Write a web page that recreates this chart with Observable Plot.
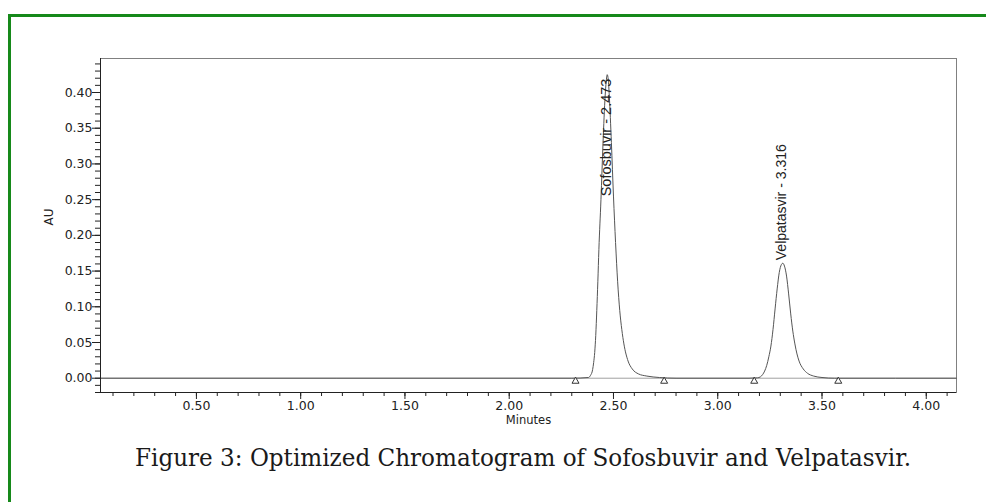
<!DOCTYPE html>
<html><head><meta charset="utf-8">
<script src="https://cdn.jsdelivr.net/npm/d3@7"></script>
<script src="https://cdn.jsdelivr.net/npm/@observablehq/plot@0.6"></script>
<style>
body{margin:0;background:#fff;width:986px;height:502px;overflow:hidden;position:relative}
#border{position:absolute;left:8px;top:14px;width:1000px;height:600px;border-left:3px solid #16891a;border-top:3px solid #16891a;box-sizing:border-box}
#chart{position:absolute;left:0;top:0}
#cap{position:absolute;left:0;top:440px}
</style></head><body>
<div id="border"></div>
<div id="chart"></div>
<div id="cap"></div>
<script>
// Chromatogram trace (minutes, AU)
const times = [0.04, 2.30, 2.38, 2.39, 2.40, 2.405, 2.41, 2.415, 2.42, 2.425, 2.43, 2.44, 2.45, 2.46, 2.465, 2.47, 2.475, 2.48, 2.49, 2.50, 2.51, 2.52, 2.53, 2.54, 2.55, 2.57, 2.59, 2.62, 2.66, 2.72, 2.80,
  3.15, 3.19, 3.205, 3.215, 3.225, 3.235, 3.245, 3.255, 3.265, 3.275, 3.285, 3.295, 3.305, 3.312, 3.32, 3.33, 3.34, 3.35, 3.36, 3.37, 3.38, 3.39, 3.41, 3.43, 3.46, 3.50, 3.56, 4.145];
const au = [0, 0, 0.001, 0.004, 0.012, 0.022, 0.036, 0.06, 0.095, 0.135, 0.18, 0.25, 0.33, 0.395, 0.415, 0.425, 0.418, 0.395, 0.33, 0.255, 0.19, 0.135, 0.095, 0.068, 0.048, 0.024, 0.013, 0.006, 0.003, 0.001, 0,
  0, 0.0005, 0.002, 0.005, 0.010, 0.018, 0.03, 0.045, 0.068, 0.097, 0.125, 0.148, 0.159, 0.161, 0.157, 0.143, 0.118, 0.09, 0.066, 0.048, 0.034, 0.024, 0.013, 0.007, 0.003, 0.001, 0, 0];
// Integration baseline markers (minutes)
const markerTimes = [2.318, 2.743, 3.175, 3.578];
// Peaks
const peakNames = ["Sofosbuvir", "Velpatasvir"];
const peakTimes = [2.473, 3.316];
const peakHeights = [0.425, 0.161];
// Ticks
const yMajor = [0, 0.05, 0.10, 0.15, 0.20, 0.25, 0.30, 0.35, 0.40];
const xMajor = [0.5, 1.0, 1.5, 2.0, 2.5, 3.0, 3.5, 4.0];
const yMinor = d3.range(-2, 45).map(i => i / 100);
const xMinor = d3.range(1, 42).map(i => i / 10);
const xLabel = "Minutes";
const yLabel = "AU";
const captionText = "Figure 3: Optimized Chromatogram of Sofosbuvir and Velpatasvir.";

const trace = times.map((t, i) => ({t, v: au[i]}));
const peaks = peakNames.map((n, i) => ({name: n, t: peakTimes[i], h: peakHeights[i], label: `${n} - ${peakTimes[i].toFixed(3)}`}));
const fmt = d3.format(".2f");

const plot = Plot.plot({
  width: 986, height: 440,
  marginLeft: 100, marginRight: 30, marginTop: 58, marginBottom: 48,
  style: {fontFamily: "DejaVu Sans, sans-serif", fontSize: "12.5px", color: "#222", background: "transparent"},
  x: {domain: [0.04, 4.145]},
  y: {domain: [-0.02, 0.4476]},
  marks: [
    Plot.frame({stroke: "#808080"}),
    Plot.ruleY([0], {stroke: "#a0a0a0"}),
    Plot.line(trace, {x: "t", y: "v", stroke: "#555", strokeWidth: 1, curve: "monotone-x"}),
    Plot.dot(markerTimes, {x: d => d, y: () => 0, dy: 3, symbol: "triangle", r: 2.6, stroke: "#333", fill: "white", strokeWidth: 1}),
    Plot.axisY(yMinor, {tickSize: 5, tickFormat: () => "", label: null}),
    Plot.axisY(yMajor, {tickSize: 8, tickPadding: 0, tickFormat: fmt, label: null}),
    Plot.axisX(xMinor, {tickSize: 4, tickFormat: () => "", label: null}),
    Plot.axisX(xMajor, {tickSize: 7, tickPadding: 2, tickFormat: fmt, label: null}),
    Plot.ruleX([0.04], {stroke: "#222"}),
    Plot.ruleY([-0.02], {stroke: "#222"}),
    Plot.text(peaks.filter(d => d.name === "Sofosbuvir"), {x: "t", y: "h", text: "label", rotate: -90, textAnchor: "end", dy: 4, dx: -1, fontFamily: "Liberation Sans, Arial, sans-serif", fontSize: 14.5, fill: "#222"}),
    Plot.text(peaks.filter(d => d.name === "Velpatasvir"), {x: "t", y: "h", text: "label", rotate: -90, textAnchor: "start", dy: -3, dx: -2, fontFamily: "Liberation Sans, Arial, sans-serif", fontSize: 14, fill: "#222"}),
    Plot.text([yLabel], {text: d => d, frameAnchor: "left", dx: -51, rotate: -90, fontSize: 12, fill: "#222"}),
    Plot.text([xLabel], {text: d => d, frameAnchor: "bottom", dy: 31, fontSize: 11.5, fill: "#222"})
  ]
});
document.getElementById("chart").appendChild(plot);

const cap = d3.select("#cap").append("svg").attr("width", 986).attr("height", 62);
cap.append("text")
  .attr("x", 523).attr("y", 26)
  .attr("text-anchor", "middle")
  .attr("font-family", "DejaVu Serif, serif")
  .attr("font-size", 24)
  .attr("fill", "#1a1a1a")
  .attr("textLength", 776)
  .attr("lengthAdjust", "spacingAndGlyphs")
  .text(captionText);
</script>
</body></html>
